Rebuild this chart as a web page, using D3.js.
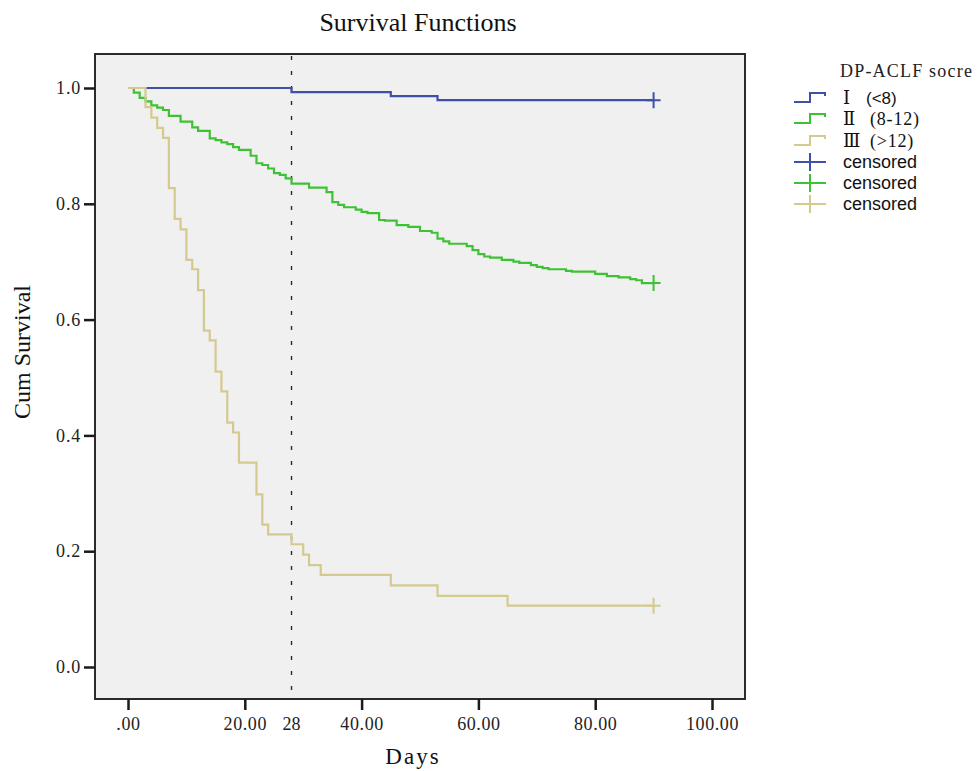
<!DOCTYPE html>
<html>
<head>
<meta charset="utf-8">
<script src="https://cdn.jsdelivr.net/npm/d3@7/dist/d3.min.js"></script>
<style>
  html, body { margin: 0; padding: 0; background: #ffffff; }
  svg { display: block; }
  .serif { font-family: "Liberation Serif", "DejaVu Serif", serif; }
  .sans { font-family: "Liberation Sans", Arial, sans-serif; }
</style>
</head>
<body>
<svg id="chart" width="977" height="771"></svg>
<script>
// Kaplan-Meier step points (time in days, cumulative survival after the event)
const gradeITimes = [0, 28, 45, 53];
const gradeISurv  = [1.0, 0.993, 0.986, 0.979];

const gradeIITimes = [0, 1, 2, 3, 4, 5, 6, 7, 9, 11, 12, 14, 15, 16, 17, 18, 19, 21, 22, 23, 24, 25, 26, 27, 28,
                      31, 34, 35, 36, 37, 39, 40, 41, 43, 44, 46, 48, 50, 52, 53, 54, 55, 58, 59, 60, 61, 62, 64,
                      66, 67, 69, 70, 71, 72, 75, 76, 80, 82, 84, 86, 87, 88];
const gradeIISurv  = [1.0, 0.992, 0.983, 0.977, 0.970, 0.966, 0.962, 0.952, 0.942, 0.932, 0.926, 0.913, 0.910,
                      0.906, 0.903, 0.898, 0.893, 0.883, 0.870, 0.867, 0.861, 0.853, 0.850, 0.844, 0.835,
                      0.828, 0.820, 0.803, 0.798, 0.794, 0.790, 0.786, 0.784, 0.772, 0.771, 0.763, 0.760, 0.753,
                      0.750, 0.740, 0.735, 0.731, 0.727, 0.720, 0.713, 0.709, 0.707, 0.703, 0.700, 0.698, 0.694,
                      0.691, 0.689, 0.687, 0.684, 0.683, 0.679, 0.675, 0.673, 0.670, 0.668, 0.663];

const gradeIIITimes = [0, 3, 4, 5, 6, 7, 8, 9, 10, 11, 12, 13, 14, 15, 16, 17, 18, 19, 22, 23, 24, 28, 30, 31, 33, 45, 53, 65];
const gradeIIISurv  = [1.0, 0.967, 0.949, 0.931, 0.914, 0.827, 0.774, 0.756, 0.703, 0.687, 0.651, 0.581, 0.564,
                       0.510, 0.476, 0.422, 0.405, 0.353, 0.298, 0.246, 0.229, 0.212, 0.194, 0.176, 0.159,
                       0.141, 0.123, 0.106];

// Last follow-up time (censored observations) per group
const censorTimes = [90, 90, 90];

const seriesNames  = ["Ⅰ", "Ⅱ", "Ⅲ"];
const seriesRanges = ["(<8)", "(8-12)", "(>12)"];
const seriesColors = ["#3f50a8", "#3fc135", "#d4ca90"];

const xTicks = [0, 20, 40, 60, 80, 100];
const yTicks = [0, 0.2, 0.4, 0.6, 0.8, 1.0];
const markerDay = 28;

const svg = d3.select("#chart");

// Plot frame in pixels
const frame = { left: 95, right: 745, top: 54, bottom: 699 };

const x = d3.scaleLinear().domain([0, 100]).range([128, 712]);
const y = d3.scaleLinear().domain([0, 1]).range([667, 88]);

// Panel background
svg.append("rect")
  .attr("x", frame.left).attr("y", frame.top)
  .attr("width", frame.right - frame.left).attr("height", frame.bottom - frame.top)
  .attr("fill", "#f0f0f0");

// Reference line at day 28
svg.append("line")
  .attr("x1", x(markerDay)).attr("x2", x(markerDay))
  .attr("y1", frame.top + 2).attr("y2", frame.bottom)
  .attr("stroke", "#2a2a2a").attr("stroke-width", 1.4)
  .attr("stroke-dasharray", "4,11");

// Survival curves
const groups = [
  { times: gradeITimes, surv: gradeISurv },
  { times: gradeIITimes, surv: gradeIISurv },
  { times: gradeIIITimes, surv: gradeIIISurv }
];

const stepLine = d3.line()
  .x(d => x(d[0]))
  .y(d => y(d[1]))
  .curve(d3.curveStepAfter);

// Draw green, blue, then tan on top
[1, 0, 2].forEach(i => {
  const g = groups[i];
  const pts = g.times.map((t, k) => [t, g.surv[k]]);
  pts.push([censorTimes[i], g.surv[g.surv.length - 1]]);
  svg.append("path")
    .attr("d", stepLine(pts))
    .attr("fill", "none")
    .attr("stroke", seriesColors[i])
    .attr("stroke-width", 2.2)
    .attr("stroke-linejoin", "miter");
  // censor mark
  const cx = x(censorTimes[i]), cy = y(g.surv[g.surv.length - 1]);
  svg.append("path")
    .attr("d", `M${cx - 7},${cy}H${cx + 7}M${cx},${cy - 8}V${cy + 8}`)
    .attr("stroke", seriesColors[i]).attr("stroke-width", 2).attr("fill", "none");
});

// Frame border
svg.append("rect")
  .attr("x", frame.left).attr("y", frame.top)
  .attr("width", frame.right - frame.left).attr("height", frame.bottom - frame.top)
  .attr("fill", "none").attr("stroke", "#2b2b2b").attr("stroke-width", 2);

// X axis
const xAxis = d3.axisBottom(x)
  .tickValues(xTicks)
  .tickSize(11)
  .tickPadding(6)
  .tickFormat(d => d === 0 ? ".00" : d3.format(".2f")(d));

const gx = svg.append("g")
  .attr("transform", `translate(0,${frame.bottom})`)
  .call(xAxis);
gx.select(".domain").remove();
gx.selectAll(".tick line").attr("stroke", "#1a1a1a").attr("stroke-width", 2.5);
gx.selectAll(".tick text")
  .attr("class", "serif")
  .attr("font-size", 18).attr("fill", "#222")
  .attr("letter-spacing", 0.6)
  .attr("dy", "0.75em");

svg.append("text")
  .attr("class", "serif")
  .attr("x", x(markerDay)).attr("y", frame.bottom + 17)
  .attr("dy", "0.75em")
  .attr("text-anchor", "middle")
  .attr("font-size", 18).attr("fill", "#222")
  .text(String(markerDay));

// Y axis
const yAxis = d3.axisLeft(y)
  .tickValues(yTicks)
  .tickSize(11)
  .tickPadding(3)
  .tickFormat(d3.format(".1f"));

const gy = svg.append("g")
  .attr("transform", `translate(${frame.left},0)`)
  .call(yAxis);
gy.select(".domain").remove();
gy.selectAll(".tick line").attr("stroke", "#1a1a1a").attr("stroke-width", 2.5);
gy.selectAll(".tick text")
  .attr("class", "serif")
  .attr("font-size", 18).attr("fill", "#222")
  .attr("letter-spacing", 0.8);

// Title and axis titles
svg.append("text")
  .attr("class", "serif")
  .attr("x", 418).attr("y", 31)
  .attr("text-anchor", "middle")
  .attr("font-size", 26).attr("fill", "#111")
  .text("Survival Functions");

svg.append("text")
  .attr("class", "serif")
  .attr("x", 413).attr("y", 764)
  .attr("text-anchor", "middle")
  .attr("font-size", 23).attr("fill", "#111")
  .attr("letter-spacing", 2)
  .text("Days");

svg.append("text")
  .attr("class", "serif")
  .attr("transform", "translate(30,352) rotate(-90)")
  .attr("text-anchor", "middle")
  .attr("font-size", 24).attr("fill", "#111")
  .text("Cum Survival");

// Legend
const legend = svg.append("g");
legend.append("text")
  .attr("class", "serif")
  .attr("x", 840).attr("y", 77)
  .attr("font-size", 18).attr("fill", "#222")
  .attr("letter-spacing", 1.2)
  .text("DP-ACLF socre");

const stepRows = [98, 119, 141];
stepRows.forEach((ry, i) => {
  legend.append("path")
    .attr("d", `M794,${ry + 4}H810V${ry - 5}H825V${ry - 2}`)
    .attr("fill", "none").attr("stroke", seriesColors[i]).attr("stroke-width", 2);
  legend.append("text")
    .attr("x", 843).attr("y", ry + 6)
    .attr("font-family", "DejaVu Serif, Liberation Serif, serif")
    .attr("font-size", 18).attr("fill", "#111")
    .text(seriesNames[i]);
  legend.append("text")
    .attr("x", i === 0 ? 866 : 870).attr("y", ry + 6)
    .attr("font-family", i === 0 ? "Liberation Sans, Arial, sans-serif" : "Liberation Serif, serif")
    .attr("font-size", i === 0 ? 17 : 18).attr("fill", "#111")
    .attr("letter-spacing", i === 0 ? 0 : 0.8)
    .text(seriesRanges[i]);
});

const censorRows = [162, 183, 204];
censorRows.forEach((ry, i) => {
  legend.append("path")
    .attr("d", `M794,${ry}H826M810,${ry - 9}V${ry + 9}`)
    .attr("fill", "none").attr("stroke", seriesColors[i]).attr("stroke-width", 2);
  legend.append("text")
    .attr("class", "sans")
    .attr("x", 843).attr("y", ry + 6)
    .attr("font-size", 18).attr("fill", "#111")
    .text("censored");
});
</script>
</body>
</html>
